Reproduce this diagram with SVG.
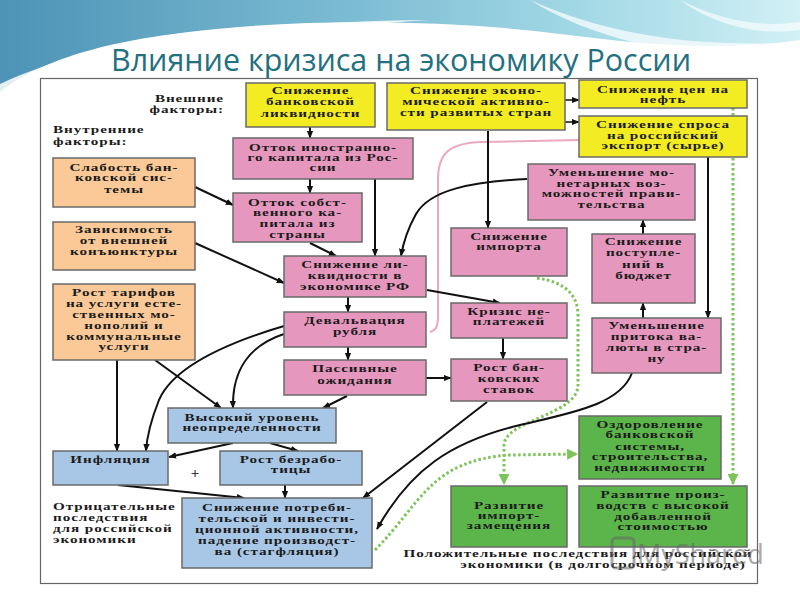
<svg xmlns="http://www.w3.org/2000/svg" width="800" height="600" viewBox="0 0 800 600">
<defs>
<linearGradient id="sky" x1="0" y1="0" x2="1" y2="0">
<stop offset="0" stop-color="#4d93b6"/><stop offset="0.45" stop-color="#7dbdd4"/><stop offset="0.75" stop-color="#a6dbe7"/><stop offset="1" stop-color="#d2f0f5"/>
</linearGradient>
<marker id="ah" viewBox="0 0 10 10" refX="9" refY="5" markerWidth="8" markerHeight="8" markerUnits="userSpaceOnUse" orient="auto"><path d="M0,1 L10,5 L0,9 z" fill="#111"/></marker>
<marker id="gh" viewBox="0 0 10 10" refX="9" refY="5" markerWidth="11" markerHeight="11" markerUnits="userSpaceOnUse" orient="auto"><path d="M0,0 L10,5 L0,10 z" fill="#7cc35a"/></marker>
<style>
.t{font-family:"Liberation Serif","DejaVu Serif",serif;font-weight:bold;font-size:10px;text-anchor:middle;letter-spacing:0.6px;fill:#1b1b1b}
.ts{font-family:"Liberation Serif","DejaVu Serif",serif;font-weight:bold;font-size:10px;letter-spacing:0.6px;fill:#1b1b1b}
.box{stroke:#6a6a6a;stroke-width:1.5}
.y{fill:#f3ec22}.o{fill:#fac997}.p{fill:#e597bd}.b{fill:#a8c6e6}.g{fill:#5bb54b}
.ca{fill:none;stroke:#111;stroke-width:2;marker-end:url(#ah)}
.gd{fill:none;stroke:#7cc35a;stroke-width:3;stroke-dasharray:2.5 2.5}
.pk{fill:none;stroke:#eaa9bf;stroke-width:2}
</style>
</defs>
<rect width="800" height="600" fill="#ffffff"/>
<path d="M0,0 H800 V40 C720,52 640,44 560,34 C420,16 230,18 110,45 C60,57 25,72 0,92 Z" fill="url(#sky)"/>
<path d="M0,84 C90,40 250,22 430,20 C300,28 140,48 0,100 Z" fill="#ffffff" opacity="0.85"/>
<path d="M530,0 C610,36 700,48 800,42 V56 C700,62 600,44 530,0 Z" fill="#ffffff" opacity="0.7"/>
<path d="M680,0 C720,20 760,28 800,22 V30 C760,36 715,26 680,0 Z" fill="#ffffff" opacity="0.6"/>
<text x="401" y="71" font-family="'Open Sans','Liberation Sans',sans-serif" font-size="31" fill="#23707f" text-anchor="middle" textLength="580" lengthAdjust="spacingAndGlyphs">Влияние кризиса на экономику России</text>
<rect x="40.5" y="78.5" width="717" height="505" fill="#ffffff" stroke="#666" stroke-width="1.2"/>

<g id="connectors">
<line class="gd" x1="733" y1="108" x2="733" y2="484" marker-end="url(#gh)"/>
<path class="gd" d="M537,278 C565,282 578,295 578,315 L578,385 C578,415 505,420 504,445 L504,484" marker-end="url(#gh)"/>
<path class="gd" d="M375,550 C420,505 430,460 510,455 L577,454" marker-end="url(#gh)"/>
<path class="pk" d="M430,332 C437,330 438,325 438,315 L438,180 C438,152 450,143 482,142 L579,140"/>
<line class="ca" x1="310" y1="127" x2="310" y2="138"/>
<line class="ca" x1="310" y1="179" x2="310" y2="193"/>
<line class="ca" x1="375" y1="179" x2="375" y2="256"/>
<line class="ca" x1="565" y1="100" x2="579" y2="100" style="stroke-width:1.5"/>
<line class="ca" x1="565" y1="122" x2="579" y2="122" style="stroke-width:1.5"/>
<line class="ca" x1="488" y1="131" x2="488" y2="228"/>
<line class="ca" x1="195" y1="187" x2="233" y2="205"/>
<line class="ca" x1="310" y1="243" x2="336" y2="256"/>
<line class="ca" x1="195" y1="243" x2="284" y2="283"/>
<path class="ca" d="M527,179 C470,182 430,190 416,214 C406,232 403,244 401,256"/>
<line class="ca" x1="348" y1="297" x2="348" y2="312"/>
<line class="ca" x1="427" y1="290" x2="500" y2="303"/>
<line class="ca" x1="348" y1="347" x2="348" y2="360"/>
<line class="ca" x1="503" y1="338" x2="503" y2="359"/>
<line class="ca" x1="426" y1="378" x2="451" y2="378"/>
<line class="ca" x1="708" y1="157" x2="708" y2="318"/>
<line class="ca" x1="643" y1="318" x2="643" y2="303"/>
<line class="ca" x1="643" y1="234" x2="643" y2="220"/>
<path class="ca" d="M632,373 C620,405 570,413 520,425 C450,442 410,470 377,529"/>
<line class="ca" x1="487" y1="402" x2="363" y2="498"/>
<line class="ca" x1="347" y1="396" x2="323" y2="408"/>
<path class="ca" d="M284,334 C250,345 232,370 233,408"/>
<path class="ca" d="M284,326 C220,345 172,370 159,400 C151,420 147,435 146,451"/>
<line class="ca" x1="155" y1="360" x2="221" y2="408"/>
<line class="ca" x1="117" y1="360" x2="117" y2="451"/>
<line class="ca" x1="233" y1="443" x2="169" y2="457"/>
<line class="ca" x1="270" y1="443" x2="298" y2="451"/>
<line class="ca" x1="118" y1="485" x2="244" y2="498"/>
<line class="ca" x1="285" y1="485" x2="285" y2="498"/>
</g>

<g id="labels">
<g transform="translate(224,0) scale(1.52,1)"><text class="ts" text-anchor="end"><tspan x="0" y="102">Внешние</tspan><tspan x="0" y="113.5">факторы:</tspan></text></g>
<g transform="translate(53,0) scale(1.52,1)"><text class="ts"><tspan x="0" y="133.5">Внутренние</tspan><tspan x="0" y="145">факторы:</tspan></text></g>
<g transform="translate(53,0) scale(1.52,1)"><text class="ts"><tspan x="0" y="510.5">Отрицательные</tspan><tspan x="0" y="521">последствия</tspan><tspan x="0" y="532">для российской</tspan><tspan x="0" y="543">экономики</tspan></text></g>
<g transform="translate(578,0) scale(1.52,1)"><text class="t"><tspan x="0" y="557.5">Положительные последствия для российской</tspan></text></g>
<g transform="translate(603,0) scale(1.52,1)"><text class="t"><tspan x="0" y="568">экономики (в долгосрочном периоде)</tspan></text></g>
<text x="195" y="478" font-family="'Liberation Serif',serif" font-size="15" font-weight="bold" fill="#333" text-anchor="middle">+</text>
</g>

<g id="n-bank-liq"><rect class="box y" x="246" y="83" width="129" height="44"/><g transform="translate(310.5,0) scale(1.52,1)"><text class="t"><tspan x="0" y="94">Снижение</tspan><tspan x="0" y="105.5">банковской</tspan><tspan x="0" y="117">ликвидности</tspan></text></g></g>
<g id="n-econ-act"><rect class="box y" x="387" y="83" width="178" height="47"/><g transform="translate(476,0) scale(1.52,1)"><text class="t"><tspan x="0" y="94.5">Снижение эконо-</tspan><tspan x="0" y="105.5">мической активно-</tspan><tspan x="0" y="116">сти развитых стран</tspan></text></g></g>
<g id="n-oil"><rect class="box y" x="579" y="80" width="168" height="28"/><g transform="translate(663,0) scale(1.52,1)"><text class="t"><tspan x="0" y="93.5">Снижение цен на</tspan><tspan x="0" y="103.5">нефть</tspan></text></g></g>
<g id="n-export"><rect class="box y" x="579" y="116" width="168" height="41"/><g transform="translate(663,0) scale(1.52,1)"><text class="t"><tspan x="0" y="128.5">Снижение спроса</tspan><tspan x="0" y="139.5">на российский</tspan><tspan x="0" y="149.5">экспорт (сырье)</tspan></text></g></g>

<g id="n-weak-bank"><rect class="box o" x="53" y="158" width="142" height="49"/><g transform="translate(124,0) scale(1.52,1)"><text class="t"><tspan x="0" y="171.5">Слабость бан-</tspan><tspan x="0" y="181.5">ковской сис-</tspan><tspan x="0" y="193">темы</tspan></text></g></g>
<g id="n-depend"><rect class="box o" x="53" y="222" width="142" height="48"/><g transform="translate(124,0) scale(1.52,1)"><text class="t"><tspan x="0" y="233.5">Зависимость</tspan><tspan x="0" y="244.5">от внешней</tspan><tspan x="0" y="255.5">конъюнктуры</tspan></text></g></g>
<g id="n-tariffs"><rect class="box o" x="53" y="284" width="142" height="76"/><g transform="translate(124,0) scale(1.52,1)"><text class="t"><tspan x="0" y="296.5">Рост тарифов</tspan><tspan x="0" y="307.5">на услуги есте-</tspan><tspan x="0" y="318.5">ственных мо-</tspan><tspan x="0" y="329.5">нополий и</tspan><tspan x="0" y="340">коммунальные</tspan><tspan x="0" y="350.5">услуги</tspan></text></g></g>

<g id="n-foreign-out"><rect class="box p" x="233" y="138" width="180" height="41"/><g transform="translate(323,0) scale(1.52,1)"><text class="t"><tspan x="0" y="151.5">Отток иностранно-</tspan><tspan x="0" y="161.5">го капитала из Рос-</tspan><tspan x="0" y="171.5">сии</tspan></text></g></g>
<g id="n-own-out"><rect class="box p" x="233" y="193" width="129" height="49"/><g transform="translate(297.5,0) scale(1.52,1)"><text class="t"><tspan x="0" y="206.5">Отток собст-</tspan><tspan x="0" y="216.5">венного ка-</tspan><tspan x="0" y="227.5">питала из</tspan><tspan x="0" y="238">страны</tspan></text></g></g>
<g id="n-liq-rf"><rect class="box p" x="284" y="256" width="142" height="41"/><g transform="translate(355,0) scale(1.52,1)"><text class="t"><tspan x="0" y="268.5">Снижение ли-</tspan><tspan x="0" y="279.5">квидности в</tspan><tspan x="0" y="290.5">экономике РФ</tspan></text></g></g>
<g id="n-deval"><rect class="box p" x="284" y="312" width="142" height="35"/><g transform="translate(355,0) scale(1.52,1)"><text class="t"><tspan x="0" y="324.5">Девальвация</tspan><tspan x="0" y="335.5">рубля</tspan></text></g></g>
<g id="n-passive"><rect class="box p" x="284" y="360" width="142" height="35"/><g transform="translate(355,0) scale(1.52,1)"><text class="t"><tspan x="0" y="372">Пассивные</tspan><tspan x="0" y="384">ожидания</tspan></text></g></g>
<g id="n-import"><rect class="box p" x="451" y="228" width="116" height="48"/><g transform="translate(509,0) scale(1.52,1)"><text class="t"><tspan x="0" y="240.5">Снижение</tspan><tspan x="0" y="250.5">импорта</tspan></text></g></g>
<g id="n-nonpay"><rect class="box p" x="451" y="303" width="116" height="35"/><g transform="translate(509,0) scale(1.52,1)"><text class="t"><tspan x="0" y="315.5">Кризис не-</tspan><tspan x="0" y="325.5">платежей</tspan></text></g></g>
<g id="n-rates"><rect class="box p" x="451" y="359" width="116" height="42"/><g transform="translate(509,0) scale(1.52,1)"><text class="t"><tspan x="0" y="371.5">Рост бан-</tspan><tspan x="0" y="382.5">ковских</tspan><tspan x="0" y="393.5">ставок</tspan></text></g></g>
<g id="n-monetary"><rect class="box p" x="528" y="164" width="167" height="56"/><g transform="translate(611.5,0) scale(1.52,1)"><text class="t"><tspan x="0" y="176.5">Уменьшение мо-</tspan><tspan x="0" y="187">нетарных воз-</tspan><tspan x="0" y="197.5">можностей прави-</tspan><tspan x="0" y="208">тельства</tspan></text></g></g>
<g id="n-budget"><rect class="box p" x="592" y="234" width="103" height="69"/><g transform="translate(643.5,0) scale(1.52,1)"><text class="t"><tspan x="0" y="245.5">Снижение</tspan><tspan x="0" y="256.5">поступле-</tspan><tspan x="0" y="268">ний в</tspan><tspan x="0" y="279">бюджет</tspan></text></g></g>
<g id="n-currency"><rect class="box p" x="592" y="318" width="129" height="55"/><g transform="translate(656.5,0) scale(1.52,1)"><text class="t"><tspan x="0" y="329.5">Уменьшение</tspan><tspan x="0" y="340.5">притока ва-</tspan><tspan x="0" y="351.5">люты в стра-</tspan><tspan x="0" y="362.5">ну</tspan></text></g></g>

<g id="n-uncert"><rect class="box b" x="168" y="408" width="168" height="35"/><g transform="translate(252,0) scale(1.52,1)"><text class="t"><tspan x="0" y="421.5">Высокий уровень</tspan><tspan x="0" y="431.5">неопределенности</tspan></text></g></g>
<g id="n-inflation"><rect class="box b" x="53" y="451" width="115" height="34"/><g transform="translate(110.5,0) scale(1.52,1)"><text class="t"><tspan x="0" y="463.5">Инфляция</tspan></text></g></g>
<g id="n-unemp"><rect class="box b" x="220" y="451" width="142" height="34"/><g transform="translate(291,0) scale(1.52,1)"><text class="t"><tspan x="0" y="463.5">Рост безрабо-</tspan><tspan x="0" y="473.5">тицы</tspan></text></g></g>
<g id="n-stagfl"><rect class="box b" x="182" y="498" width="190" height="70"/><g transform="translate(277,0) scale(1.52,1)"><text class="t"><tspan x="0" y="511.5">Снижение потреби-</tspan><tspan x="0" y="522">тельской и инвести-</tspan><tspan x="0" y="533">ционной активности,</tspan><tspan x="0" y="544">падение производст-</tspan><tspan x="0" y="555">ва (стагфляция)</tspan></text></g></g>

<g id="n-recovery"><rect class="box g" x="579" y="416" width="142" height="63"/><g transform="translate(650,0) scale(1.52,1)"><text class="t"><tspan x="0" y="428.5">Оздоровление</tspan><tspan x="0" y="438.5">банковской</tspan><tspan x="0" y="450">системы,</tspan><tspan x="0" y="460.5">строительства,</tspan><tspan x="0" y="471.5">недвижимости</tspan></text></g></g>
<g id="n-impsub"><rect class="box g" x="451" y="486" width="116" height="61"/><g transform="translate(509,0) scale(1.52,1)"><text class="t"><tspan x="0" y="509.5">Развитие</tspan><tspan x="0" y="519.5">импорт-</tspan><tspan x="0" y="529.5">замещения</tspan></text></g></g>
<g id="n-highval"><rect class="box g" x="579" y="486" width="168" height="61"/><g transform="translate(663,0) scale(1.52,1)"><text class="t"><tspan x="0" y="498.5">Развитие произ-</tspan><tspan x="0" y="509.5">водств с высокой</tspan><tspan x="0" y="520.5">добавленной</tspan><tspan x="0" y="530.5">стоимостью</tspan></text></g></g>

<g id="watermark" opacity="0.55">
<rect x="612" y="538" width="22" height="30" rx="4" fill="none" stroke="#666" stroke-width="3"/>
<text x="637" y="564" font-family="'Open Sans','Liberation Sans',sans-serif" font-size="27" fill="#666">MyShared</text>
</g>
</svg>
